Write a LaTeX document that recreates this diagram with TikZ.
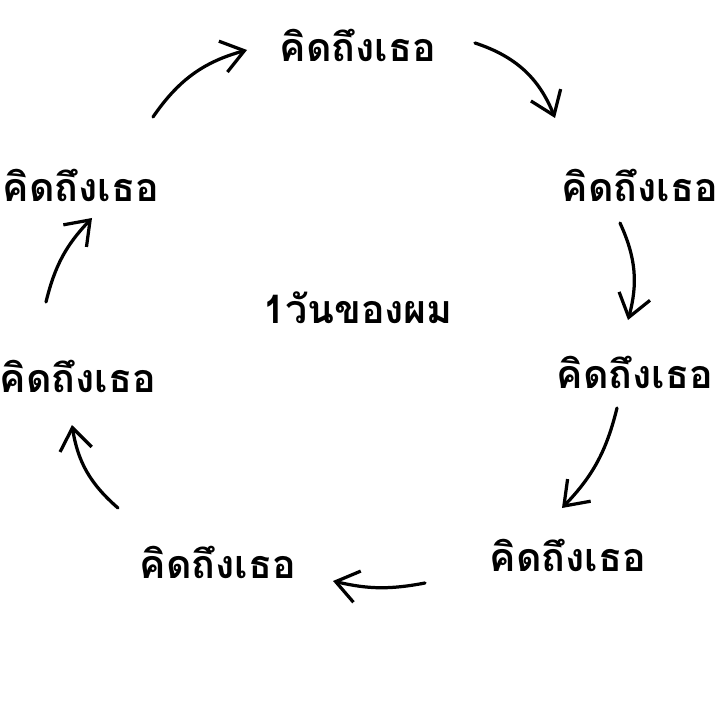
\documentclass[tikz,border=0pt]{standalone}
\usepackage{fontspec}
\newfontfamily\thaifont[Script=Thai]{Loma}
\usetikzlibrary{arrows.meta}
\tikzset{
	word/.style={font=\thaifont\bfseries\fontsize{28}{34}\selectfont, inner sep=0pt},
	swirl/.style={line width=2.3pt, line cap=round, -{Straight Barb[length=5.5mm,width=8mm,line width=2.3pt]}}
}
\begin{document}
\begin{tikzpicture}[x=0.025cm, y=-0.025cm]
	\useasboundingbox (0,0) rectangle (720,720);

	\node [word] (1) at (358,45) {คิดถึงเธอ};
	\node [word] (2) at (640,185) {คิดถึงเธอ};
	\node [word] (3) at (635,372) {คิดถึงเธอ};
	\node [word] (4) at (568,555) {คิดถึงเธอ};
	\node [word] (5) at (218,562) {คิดถึงเธอ};
	\node [word] (6) at (78,376) {คิดถึงเธอ};
	\node [word] (7) at (81,185) {คิดถึงเธอ};
	\node [word] (day) at (358,308) {1วันของผม};

	% ends of the arrows
	\coordinate (s1) at (475,43);  \coordinate (e1) at (555,118);
	\coordinate (s2) at (620,223); \coordinate (e2) at (628,320);
	\coordinate (s3) at (617,408); \coordinate (e3) at (562,508);
	\coordinate (s4) at (425,583); \coordinate (e4) at (333,581);
	\coordinate (s5) at (118,508); \coordinate (e5) at (72,425);
	\coordinate (s6) at (46,302);  \coordinate (e6) at (92,218);
	\coordinate (s7) at (153,117); \coordinate (e7) at (247,50);

	\path [swirl] (s1) edge [bend left=25] (e1);
	\path [swirl] (s2) edge [bend left=20] (e2);
	\path [swirl] (s3) edge [bend left=15] (e3);
	\path [swirl] (s4) edge [bend left=12] (e4);
	\path [swirl] (s5) edge [bend left=20] (e5);
	\path [swirl] (s6) edge [bend left=15] (e6);
	\path [swirl] (s7) edge [bend left=20] (e7);
\end{tikzpicture}
\end{document}
